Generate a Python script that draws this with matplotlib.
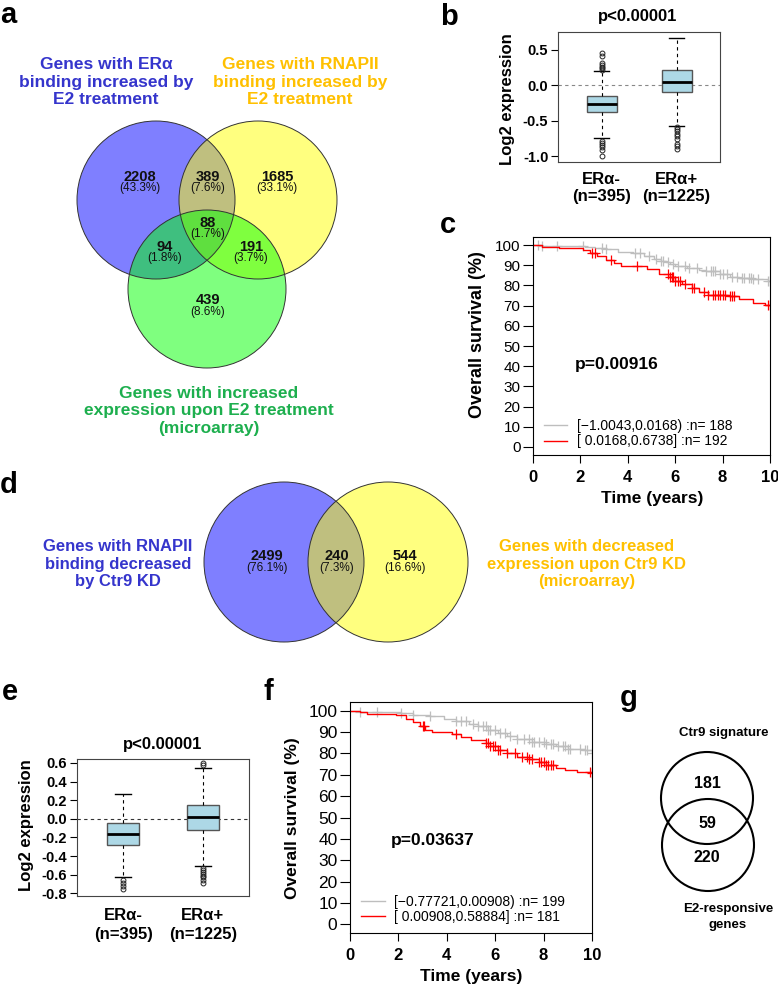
import numpy as np
import matplotlib
matplotlib.use('Agg')
import matplotlib.pyplot as plt
from matplotlib.patches import Circle
from matplotlib.lines import Line2D
from matplotlib.transforms import blended_transform_factory

plt.rcParams['font.family'] = ['Liberation Sans', 'DejaVu Sans']

W, H = 778, 985

# ---- panel a: three-set venn
venn_a_counts = [2208, 389, 1685, 94, 88, 191, 439]
venn_a_pct = ['43.3', '7.6', '33.1', '1.8', '1.7', '3.7', '8.6']
venn_a_names = ['Genes with ERα\nbinding increased by\nE2 treatment',
                'Genes with RNAPII\nbinding increased by\nE2 treatment',
                'Genes with increased\nexpression upon E2 treatment\n(microarray)']

# ---- panel b / e: boxplots
box_groups = ['ERα-', 'ERα+']
box_n = ['(n=395)', '(n=1225)']
b_med = [-0.27, 0.05]
b_q1 = [-0.38, -0.10]
b_q3 = [-0.15, 0.21]
b_lo = [-0.74, -0.57]
b_hi = [0.20, 0.67]
b_fliers = [[0.45, 0.41, 0.31, 0.28, 0.26, 0.24, 0.22, -0.78, -0.81, -0.84, -0.87, -0.91, -1.0],
            [-0.59, -0.62, -0.65, -0.69, -0.72, -0.75, -0.82, -0.86, -0.90]]
e_med = [-0.16, 0.02]
e_q1 = [-0.28, -0.12]
e_q3 = [-0.04, 0.15]
e_lo = [-0.63, -0.51]
e_hi = [0.27, 0.55]
e_fliers = [[-0.66, -0.69, -0.72, -0.76],
            [0.60, 0.58, -0.53, -0.55, -0.57, -0.59, -0.61, -0.63, -0.66, -0.69]]

# ---- panel c / f: Kaplan-Meier
c_gray_t = [0, 0.4, 2.2, 2.6, 3.1, 3.6, 4.2, 4.7, 5.1, 5.4, 5.6, 5.8, 6.0, 6.5, 7.0, 7.3, 7.9, 8.3, 8.7, 9.3, 9.9, 10]
c_gray_s = [100, 99.5, 99, 98.4, 97.9, 96.8, 95.9, 94.5, 93.2, 92.3, 91.6, 90.6, 89.6, 88.4, 87.8, 87.1, 85.5, 84.3, 83.5, 83, 82.2, 82.2]
c_gray_cens = [0.2, 0.4, 1.0, 2.1, 2.9, 3.1, 4.3, 4.5, 4.9, 5.2, 5.4, 5.5, 5.7, 5.9, 6.1, 6.4, 6.6, 6.9, 7.3, 7.5,
               7.6, 7.7, 7.9, 8.0, 8.2, 8.4, 8.6, 8.8, 8.9, 9.1, 9.2, 9.3, 9.5, 9.9, 10.0]
c_red_t = [0, 0.4, 1.1, 2.1, 2.4, 2.7, 3.1, 3.4, 3.7, 4.8, 5.3, 5.8, 6.0, 6.3, 6.7, 7.0, 7.4, 8.3, 8.7, 9.3, 9.8, 10]
c_red_s = [100, 99.2, 98.5, 97.5, 95.9, 94.5, 92.6, 90.9, 89.6, 87.9, 85.9, 84.3, 82.1, 80.5, 78.8, 76.7, 75.5, 74.7, 73.1, 71.1, 70.1, 70.1]
c_red_cens = [2.5, 2.6, 3.3, 4.4, 5.7, 5.8, 5.85, 5.9, 6.0, 6.1, 6.2, 6.4, 6.7, 6.8, 7.2, 7.4, 7.6, 7.7, 7.8,
              7.9, 8.0, 8.1, 8.3, 8.4, 8.5, 9.9, 10.0]
c_legend = ['[\u22121.0043,0.0168) :n= 188', '[ 0.0168,0.6738] :n= 192']
c_p = 'p=0.00916'

f_gray_t = [0, 0.4, 2.1, 2.6, 3.3, 3.9, 4.4, 4.9, 5.3, 5.7, 6.1, 6.5, 6.9, 7.5, 8.1, 8.5, 9.0, 9.7, 10]
f_gray_s = [100, 99.5, 98.9, 98.1, 97.4, 96.1, 95.0, 93.9, 92.7, 90.8, 89.6, 88.0, 86.5, 85.2, 84.2, 83.4, 82.1, 81.5, 80.3]
f_gray_cens = [0.4, 1.1, 2.1, 2.6, 3.3, 4.4, 4.6, 4.8, 5.1, 5.3, 5.5, 5.6, 5.7, 5.8, 6.0, 6.2, 6.4, 6.6, 6.9,
               7.2, 7.4, 7.5, 7.6, 7.8, 8.0, 8.1, 8.3, 8.4, 8.6, 8.8, 8.9, 9.0, 9.1, 9.5, 9.7, 9.8, 10.0]
f_red_t = [0, 0.4, 0.7, 1.9, 2.3, 2.6, 2.9, 3.1, 3.4, 4.2, 4.6, 5.0, 5.6, 5.8, 6.1, 6.5, 6.9, 7.4, 7.8, 8.1,
           8.5, 8.9, 9.4, 10]
f_red_s = [100, 99.2, 98.6, 97.7, 96.1, 94.6, 93.0, 91.1, 89.9, 89.1, 87.6, 86.2, 84.6, 83.4, 81.5, 80.3,
           78.4, 77.2, 75.9, 74.4, 73.3, 72.2, 71.3, 70.7]
f_red_cens = [3.0, 3.05, 4.4, 5.6, 5.7, 5.8, 5.9, 6.0, 6.1, 6.2, 6.5, 6.8, 7.1, 7.3, 7.4, 7.5, 7.8, 7.9,
              8.0, 8.1, 8.2, 8.3, 8.4, 9.9, 10.0]
f_legend = ['[\u22120.77721,0.00908) :n= 199', '[ 0.00908,0.58884] :n= 181']
f_p = 'p=0.03637'

# ---- panel d: two-set venn
venn_d_counts = [2499, 240, 544]
venn_d_pct = ['76.1', '7.3', '16.6']
venn_d_names = ['Genes with RNAPII\nbinding decreased\nby Ctr9 KD',
                'Genes with decreased\nexpression upon Ctr9 KD\n(microarray)']

# ---- panel g
venn_g_counts = [181, 59, 220]
venn_g_names = ['Ctr9 signature', 'E2-responsive\ngenes']

BLUE_T = '#3535CC'
YELL_T = '#FFC000'
GREEN_T = '#1DAF4E'

fig = plt.figure(figsize=(W / 100, H / 100), dpi=100)


def px_axes(l, t, w, h):
    return fig.add_axes([l / W, 1 - (t + h) / H, w / W, h / H])


ov = fig.add_axes([0, 0, 1, 1], zorder=5)
ov.set_xlim(0, W)
ov.set_ylim(H, 0)
ov.axis('off')
ov.patch.set_alpha(0)

# panel letters
for let, x, y in [('a', 0, 23), ('b', 440, 25), ('c', 440, 233), ('d', 0, 493),
                  ('e', 2, 700), ('f', 264, 700), ('g', 620, 706)]:
    ov.text(x, y, let, fontsize=21, fontweight='bold', ha='left', va='baseline')

# ---------- a
for (cx, cy), col in zip([(156, 200), (258, 200), (207, 289)], ['#0000FF', '#FFFF00', '#00FF00']):
    ov.add_patch(Circle((cx, cy), 79, fc=col, ec='none', alpha=0.5))
for cx, cy in [(156, 200), (258, 200), (207, 289)]:
    ov.add_patch(Circle((cx, cy), 79, fc='none', ec='#333333', lw=0.7))
pos_a = [(140, 177), (208, 177), (277, 177), (165, 247), (208, 223), (251, 247), (208, 300)]
for (x, y), n, p in zip(pos_a, venn_a_counts, venn_a_pct):
    ov.text(x, y, str(n), fontsize=10.5, fontweight='bold', ha='center', va='center', color='#111111')
    ov.text(x, y + 11.5, '(%s%%)' % p, fontsize=8.5, ha='center', va='center', color='#111111')
for (x, y), name, col in zip([(106, 82), (300, 82), (209, 411)], venn_a_names, [BLUE_T, YELL_T, GREEN_T]):
    ov.text(x, y, name, fontsize=12.5, fontweight='bold', color=col, ha='center', va='center',
            multialignment='center')

# ---------- d
for (cx, cy), col in zip([(284, 562), (388, 562)], ['#0000FF', '#FFFF00']):
    ov.add_patch(Circle((cx, cy), 80, fc=col, ec='none', alpha=0.5))
for cx, cy in [(284, 562), (388, 562)]:
    ov.add_patch(Circle((cx, cy), 80, fc='none', ec='#333333', lw=0.7))
for (x, y), n, p in zip([(267, 556), (337, 556), (405, 556)], venn_d_counts, venn_d_pct):
    ov.text(x, y, str(n), fontsize=10.5, fontweight='bold', ha='center', va='center', color='#111111')
    ov.text(x, y + 12, '(%s%%)' % p, fontsize=8.5, ha='center', va='center', color='#111111')
for (x, y), name, col in zip([(118, 564), (587, 564)], venn_d_names, [BLUE_T, YELL_T]):
    ov.text(x, y, name, fontsize=12, fontweight='bold', color=col, ha='center', va='center',
            multialignment='center')

# ---------- g
for cx, cy in [(707, 798), (708, 845)]:
    ov.add_patch(Circle((cx, cy), 46, fc='none', ec='black', lw=1.5))
for (x, y), n in zip([(707, 784), (707, 823), (707, 858)], venn_g_counts):
    ov.text(x, y, str(n), fontsize=11.5, fontweight='bold', ha='center', va='center')
ov.text(724, 733, venn_g_names[0], fontsize=9.5, fontweight='bold', ha='center', va='center')
ov.text(728, 917, venn_g_names[1], fontsize=9.5, fontweight='bold', ha='center', va='center',
        multialignment='center', linespacing=1.35)


# ---------- boxplots
def boxpanel(ax, med, q1, q3, lo, hi, fl, ylim, ticks, zcol, title_xy, ylab_xy, lab_y):
    stats = []
    for i in range(2):
        stats.append(dict(med=med[i], q1=q1[i], q3=q3[i], whislo=lo[i], whishi=hi[i], fliers=fl[i]))
    ax.axhline(0, color=zcol, ls=(0, (3, 3)), lw=0.8, zorder=0)
    ax.bxp(stats, positions=[1, 2], widths=0.4, capwidths=0.2, patch_artist=True,
           boxprops=dict(facecolor='#ADD8E6', edgecolor='#555555', lw=1),
           whiskerprops=dict(ls=(0, (3, 3)), color='black', lw=0.8),
           capprops=dict(color='black', lw=1),
           medianprops=dict(color='black', lw=2),
           flierprops=dict(marker='o', mfc='none', mec='#222222', ms=3.5, mew=0.7))
    ax.set_xlim(0.42, 2.58)
    ax.set_ylim(*ylim)
    ax.set_xticks([])
    ax.set_yticks(ticks, ['%.1f' % t for t in ticks], fontweight='bold', fontsize=10.5)
    ax.tick_params(axis='y', length=5, width=0.8, pad=2)
    for s in ax.spines.values():
        s.set_color('#444444')
        s.set_linewidth(0.8)
    tr = blended_transform_factory(ax.transData, ov.transData)
    for i in range(2):
        ax.text(i + 1, lab_y, box_groups[i], transform=tr, fontsize=12, fontweight='bold',
                ha='center', va='center')
        ax.text(i + 1, lab_y + (17 if lab_y < 500 else 19), box_n[i], transform=tr, fontsize=12,
                fontweight='bold', ha='center', va='center')
    ov.text(*title_xy, 'p<0.00001', fontsize=12, fontweight='bold', ha='center', va='center')
    ov.text(*ylab_xy, 'Log2 expression', fontsize=12, fontweight='bold', ha='center', va='center',
            rotation=90)


axb = px_axes(558, 32, 162, 130)
boxpanel(axb, b_med, b_q1, b_q3, b_lo, b_hi, b_fliers, (-1.08, 0.75), [0.5, 0.0, -0.5, -1.0], '#888888',
         (638, 17), (508, 99), 180)
axe = px_axes(77, 759, 172, 137)
boxpanel(axe, e_med, e_q1, e_q3, e_lo, e_hi, e_fliers, (-0.83, 0.643),
         [0.6, 0.4, 0.2, 0.0, -0.2, -0.4, -0.6, -0.8], '#333333', (163, 744), (27, 825), 915)


# ---------- KM
def km(ax, t, s, cens, col):
    t = np.asarray(t)
    s = np.asarray(s)
    ax.step(t, s, where='post', color=col, lw=1)
    idx = np.searchsorted(t, cens, side='right') - 1
    ax.plot(cens, s[idx], ls='none', marker='+', ms=7, mew=0.9, color=col)


def kmpanel(ax, gt, gs, gc, rt, rs, rc, leg, ptxt, ytsize, p_xy, ylab_xy, xlab_xy, ylsize):
    km(ax, gt, gs, gc, '#BEBEBE')
    km(ax, rt, rs, rc, '#FF0000')
    ax.set_xlim(0, 10)
    ax.set_ylim(-4, 104)
    ax.set_yticks(range(0, 101, 10))
    ax.set_xticks(range(0, 11, 2))
    ax.tick_params(axis='y', length=7.5, width=0.8, pad=1.5, labelsize=ytsize)
    ax.tick_params(axis='x', length=6, width=0.8, pad=5, labelsize=12)
    for lbl in ax.get_xticklabels():
        lbl.set_fontweight('bold')
    for s in ax.spines.values():
        s.set_linewidth(0.8)
    hs = [Line2D([], [], color='#BEBEBE', lw=1), Line2D([], [], color='#FF0000', lw=1)]
    ax.legend(hs, leg, loc='upper left', bbox_to_anchor=(0.045, 0.165), frameon=False, fontsize=10,
              handlelength=1.7, handletextpad=0.7, labelspacing=0.1, borderpad=0, borderaxespad=0)
    ov.text(*p_xy, ptxt, fontsize=12.5, fontweight='bold', ha='left', va='center')
    ov.text(*ylab_xy, 'Overall survival (%)', fontsize=ylsize, fontweight='bold', ha='center',
            va='center', rotation=90)
    ov.text(*xlab_xy, 'Time (years)', fontsize=12.5, fontweight='bold', ha='center', va='center')


axc = px_axes(533, 237, 237, 218)
kmpanel(axc, c_gray_t, c_gray_s, c_gray_cens, c_red_t, c_red_s, c_red_cens, c_legend, c_p, 11,
        (575, 365), (478, 335), (652, 499), 13)
axf = px_axes(350, 702, 242, 231)
kmpanel(axf, f_gray_t, f_gray_s, f_gray_cens, f_red_t, f_red_s, f_red_cens, f_legend, f_p, 12.5,
        (391, 840), (293, 818), (471, 976), 12.5)

fig.savefig('out.png', dpi=100)
